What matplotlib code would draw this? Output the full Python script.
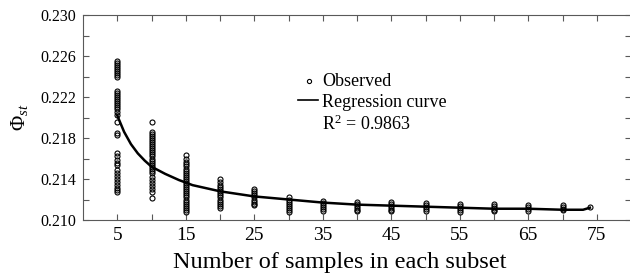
import matplotlib

matplotlib.use("Agg")
import matplotlib.pyplot as plt
from matplotlib.ticker import FixedLocator, FormatStrFormatter

plt.rcParams["font.family"] = ["Liberation Serif", "DejaVu Serif"]
plt.rcParams["mathtext.fontset"] = "custom"
plt.rcParams["mathtext.rm"] = "Liberation Serif"
plt.rcParams["mathtext.it"] = "Liberation Serif:italic"

# observed Phi_st values per subset size
subset_sizes = [5, 10, 15, 20, 25, 30, 35, 40, 45, 50, 55, 60, 65, 70, 74]
observed = [
    [0.2255, 0.2253, 0.2251, 0.2249, 0.2247, 0.2245, 0.2243, 0.2241, 0.2240,
     0.2226, 0.2224, 0.2222, 0.2220, 0.2218, 0.2216, 0.2214, 0.2212, 0.2210,
     0.2208, 0.2205, 0.2202, 0.2196, 0.2185, 0.2183,
     0.2165, 0.2162, 0.2159, 0.2156, 0.2154,
     0.2149, 0.2146, 0.2143, 0.2140, 0.2137, 0.2134, 0.2131, 0.2129, 0.2127],
    [0.2196, 0.2186, 0.2184, 0.2182, 0.2180, 0.2178, 0.2176, 0.2174, 0.2172,
     0.2170, 0.2168, 0.2166, 0.2164, 0.2162, 0.2160, 0.2158, 0.2156, 0.2154,
     0.2152, 0.2150, 0.2148, 0.2146, 0.2142, 0.2139, 0.2136, 0.2133, 0.2130,
     0.2127, 0.2121],
    [0.2163, 0.2160, 0.2157, 0.2155, 0.2153, 0.2150, 0.2148, 0.2146, 0.2144,
     0.2142, 0.2140, 0.2138, 0.2136, 0.2134, 0.2132, 0.2130, 0.2128, 0.2126,
     0.2124, 0.2122, 0.2120, 0.2118, 0.2116, 0.2114, 0.2112, 0.2110, 0.2108],
    [0.2140, 0.2137, 0.2134, 0.2132, 0.2130, 0.2128, 0.2126, 0.2124, 0.2122,
     0.2120, 0.2118, 0.2116, 0.2114, 0.2112],
    [0.2130, 0.2128, 0.2126, 0.2124, 0.2122, 0.2120, 0.2118, 0.2116, 0.2115],
    [0.2122, 0.2120, 0.2118, 0.2116, 0.2114, 0.2112, 0.2110, 0.2108],
    [0.2119, 0.2117, 0.2115, 0.2113, 0.2111, 0.2109],
    [0.2118, 0.2116, 0.2114, 0.2112, 0.2110, 0.2109],
    [0.2118, 0.2116, 0.2114, 0.2112, 0.2110, 0.2109],
    [0.2117, 0.2115, 0.2113, 0.2111, 0.2109],
    [0.2116, 0.2114, 0.2112, 0.2110, 0.2108],
    [0.2116, 0.2114, 0.2112, 0.2110, 0.2109],
    [0.2115, 0.2113, 0.2111, 0.2109],
    [0.2115, 0.2113, 0.2111, 0.2110],
    [0.2113],
]

# regression curve
curve_x = [5, 6, 7, 8, 9, 10, 12, 14, 16, 18, 20, 25, 30, 35, 40, 45, 50,
           55, 60, 65, 70, 73, 74]
curve_y = [0.2202, 0.2186, 0.2174, 0.2165, 0.2158, 0.2152, 0.2145, 0.2139,
           0.2134, 0.2131, 0.2128, 0.2123, 0.2120, 0.2117, 0.2115, 0.2114,
           0.2113, 0.2112, 0.2111, 0.2111, 0.2110, 0.2110, 0.2112]

x_labels = [5, 15, 25, 35, 45, 55, 65, 75]
y_labels = [0.210, 0.214, 0.218, 0.222, 0.226, 0.230]

fig = plt.figure(figsize=(6.3, 2.76), dpi=100)
# right spine sits just past the image edge, as in the source
ax = fig.add_axes([83 / 630, (276 - 220) / 276, 548 / 630, 205 / 276])

for xs, ys in zip(subset_sizes, observed):
    ax.plot([xs] * len(ys), ys, "o", mfc="none", mec="black", ms=3.6, mew=0.8)
ax.plot(curve_x, curve_y, color="black", lw=1.8)

ax.set_xlim(0, 80)
ax.set_ylim(0.210, 0.230)
ax.xaxis.set_major_locator(FixedLocator(x_labels))
ax.xaxis.set_minor_locator(FixedLocator([10, 20, 30, 40, 50, 60, 70]))
ax.yaxis.set_major_locator(FixedLocator(y_labels))
ax.yaxis.set_minor_locator(FixedLocator([0.212, 0.216, 0.220, 0.224, 0.228]))
ax.yaxis.set_major_formatter(FormatStrFormatter("%.3f"))
ax.tick_params(which="both", direction="in", top=True, right=True,
               length=4, width=0.8, color="0.35")
ax.tick_params(axis="x", labelsize=14, pad=5)
ax.tick_params(axis="y", labelsize=11.5, pad=5)
for sp in ax.spines.values():
    sp.set_color("0.35")
    sp.set_linewidth(0.8)

ax.set_xlabel("Number of samples in each subset", fontsize=17.5)
ax.xaxis.set_label_coords((340 - 83) / 548, -0.155)
ax.set_ylabel(r"$\Phi_{st}$", fontsize=15)
ax.yaxis.set_label_coords((30 - 83) / 548, 0.5)

# legend drawn by hand
ax.plot([0.413], [0.678], "o", mfc="none", mec="black", ms=3, mew=0.8,
        transform=ax.transAxes, clip_on=False)
ax.plot([0.392, 0.429], [0.585, 0.585], color="black", lw=1.2,
        transform=ax.transAxes, clip_on=False)
ax.text(0.436, 0.678, "Observed", transform=ax.transAxes, fontsize=13,
        va="center", ha="left")
ax.text(0.436, 0.575, "Regression curve", transform=ax.transAxes,
        fontsize=13, va="center", ha="left")
ax.text(0.436, 0.468, r"R$^2$ = 0.9863", transform=ax.transAxes,
        fontsize=13, va="center", ha="left")

fig.savefig("out.png", dpi=100)
